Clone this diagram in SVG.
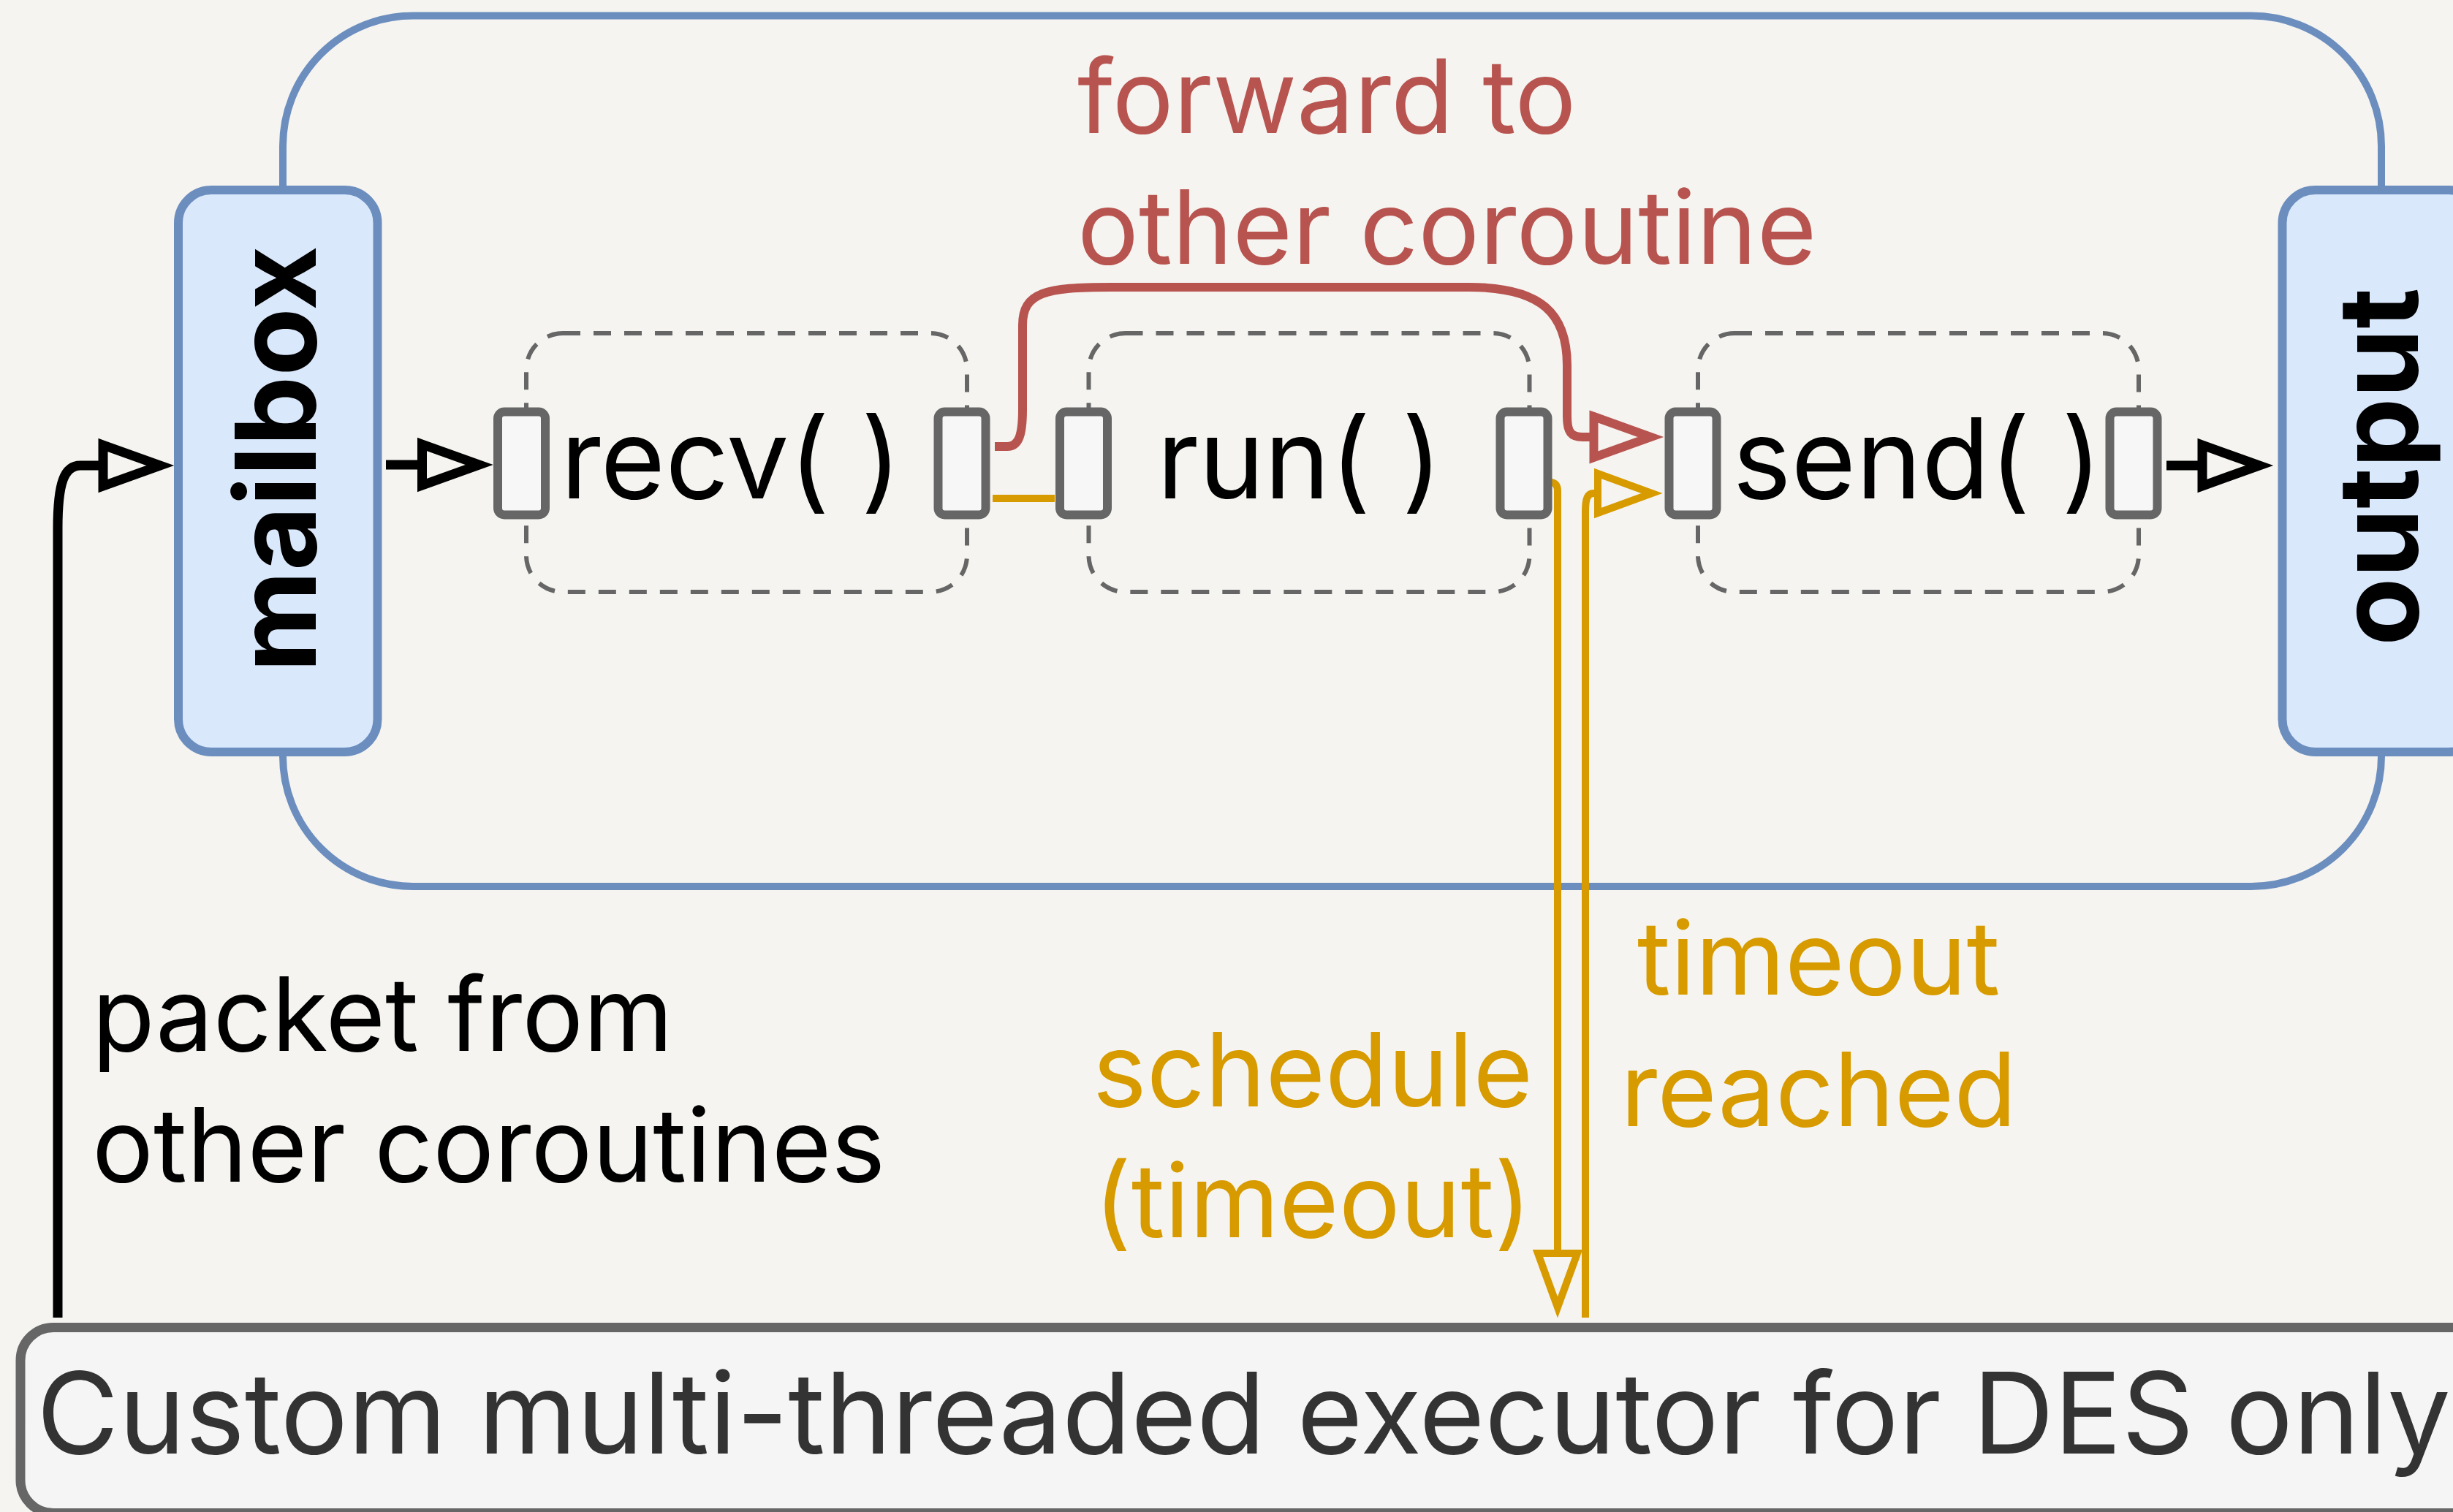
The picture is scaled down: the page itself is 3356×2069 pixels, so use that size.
<svg xmlns="http://www.w3.org/2000/svg" width="3356" height="2069" viewBox="0 0 3356 2069">
  <style>
    .lbl { font-family: Inter, "Liberation Sans", sans-serif; font-size: 140px; }
    .fn { font-family: Inter, "Liberation Sans", sans-serif; font-size: 152px; fill: #000; text-anchor: middle; }
    .big { font-family: Inter, "Liberation Sans", sans-serif; font-size: 152px; font-weight: bold; fill: #000; text-anchor: middle; }
    .blue { fill: #dae8fc; stroke: #6c8ebf; stroke-width: 12; }
    .dash { fill: none; stroke: #666666; stroke-width: 6; stroke-dasharray: 24 18; }
    .port { fill: #f7f7f7; stroke: #666666; stroke-width: 12; }
    .ck { fill: none; stroke: #000; stroke-width: 13; }
    .cr { fill: none; stroke: #b85450; stroke-width: 12; }
    .cy { fill: none; stroke: #d79b00; stroke-width: 10; }
  </style>
  <defs>
    <marker id="ak" markerUnits="userSpaceOnUse" orient="auto" refX="0" refY="0" markerWidth="10" markerHeight="10" overflow="visible">
      <path d="M0,-28 L78,0 L0,28 Z" fill="#f5f4f0" stroke="#000" stroke-width="13"/>
    </marker>
    <marker id="ar" markerUnits="userSpaceOnUse" orient="auto" refX="0" refY="0" markerWidth="10" markerHeight="10" overflow="visible">
      <path d="M0,-28 L78,0 L0,28 Z" fill="#f5f4f0" stroke="#b85450" stroke-width="12"/>
    </marker>
    <marker id="ay" markerUnits="userSpaceOnUse" orient="auto" refX="0" refY="0" markerWidth="10" markerHeight="10" overflow="visible">
      <path d="M0,-27 L74,0 L0,27 Z" fill="#f5f4f0" stroke="#d79b00" stroke-width="10"/>
    </marker>
  </defs>
  <rect x="0" y="0" width="3356" height="2069" fill="#f5f4f0"/>

  <g id="container">
    <rect x="387" y="21.5" width="2871" height="1191.5" rx="178" ry="178" fill="none" stroke="#6c8ebf" stroke-width="10"/>
  </g>

  <g id="recv">
    <rect class="dash" x="720" y="456" width="603" height="354" rx="50"/>
    <text class="fn" x="1000" y="682">recv( )</text>
  </g>
  <g id="run">
    <rect class="dash" x="1489.5" y="456" width="603" height="354" rx="50"/>
    <text class="fn" x="1778" y="682">run( )</text>
  </g>
  <g id="send">
    <rect class="dash" x="2323" y="456" width="603" height="354" rx="50"/>
    <text class="fn" x="2623" y="682">send( )</text>
  </g>

  <g id="labels">
    <text class="lbl" fill="#b85450" x="1474" y="182">forward to</text>
    <text class="lbl" fill="#b85450" x="1474" y="361">other coroutine</text>
    <text class="lbl" fill="#000" x="126" y="1438">packet from</text>
    <text class="lbl" fill="#000" x="126" y="1617">other coroutines</text>
    <text class="lbl" fill="#d79b00" x="2488" y="1361" text-anchor="middle">timeout</text>
    <text class="lbl" fill="#d79b00" x="2488" y="1541" text-anchor="middle">reached</text>
    <text class="lbl" fill="#d79b00" x="1796" y="1514" text-anchor="middle">schedule</text>
    <text class="lbl" fill="#d79b00" x="1796" y="1693" text-anchor="middle">(timeout)</text>
  </g>

  <g id="connectors">
    <path class="ck" d="M528,636 H577.5" marker-end="url(#ak)"/>
    <path class="ck" d="M79,1803 V723 C79,660 88,637 110,637 H141" marker-end="url(#ak)"/>
    <path class="ck" d="M2964,637 H3013" marker-end="url(#ak)"/>
    <path class="cr" d="M1361,611 H1378 C1394,611 1399,595 1399,560 V445 C1399,400 1430,393 1520,393 H2010 C2110,393 2144,430 2144,500 V570 C2144,592 2150,598 2165,598 H2180.5" marker-end="url(#ar)"/>
    <path class="cy" d="M1358,682 H1443"/>
    <path class="cy" d="M2121,660 Q2131,660 2131,672 V1715" marker-end="url(#ay)"/>
    <path class="cy" d="M2169,1803 V700 C2169,682 2172,675 2180,675 H2186" marker-end="url(#ay)"/>
  </g>

  <g id="ports">
    <rect class="port" x="681" y="563.5" width="65" height="141" rx="9"/>
    <rect class="port" x="1283.5" y="563.5" width="65" height="141" rx="9"/>
    <rect class="port" x="1450" y="563.5" width="65" height="141" rx="9"/>
    <rect class="port" x="2052.5" y="563.5" width="65" height="141" rx="9"/>
    <rect class="port" x="2283.5" y="563.5" width="65" height="141" rx="9"/>
    <rect class="port" x="2886.5" y="563.5" width="65" height="141" rx="9"/>
  </g>

  <g id="mailbox">
    <rect class="blue" x="244" y="260" width="272.5" height="769" rx="45"/>
    <text class="big" transform="translate(432,628) rotate(-90)">mailbox</text>
  </g>
  <g id="output">
    <rect class="blue" x="3122.5" y="260" width="272.5" height="769" rx="45"/>
    <text class="big" transform="translate(3308,639) rotate(-90)">output</text>
  </g>

  <g id="executor">
    <rect x="28" y="1816.5" width="3400" height="254" rx="45" fill="#f5f5f5" stroke="#666666" stroke-width="13"/>
    <text x="50" y="1989" font-family="Inter, 'Liberation Sans', sans-serif" font-size="154" fill="#333333">Custom multi-threaded executor for DES only</text>
  </g>
</svg>
